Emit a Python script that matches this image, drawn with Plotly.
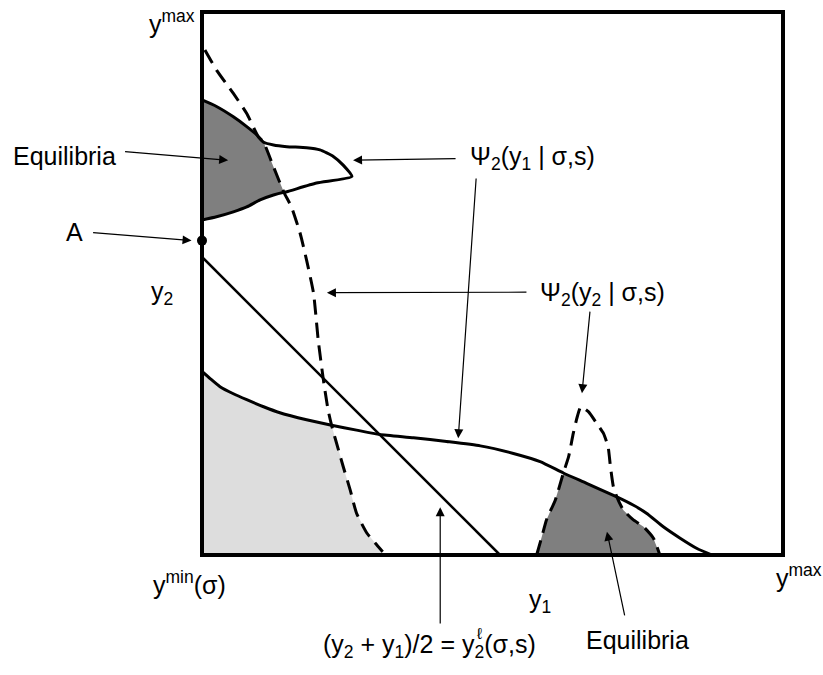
import plotly.graph_objects as go

# Psi_2(y1 | sigma,s): upper loop leaving the y2 axis, out to its tip and back
loop_x = [0, 2.5, 5.4, 7.7, 9.4, 10.6, 12.3, 14.6, 18.0, 20.3, 22.6, 24.3, 25.8,
          19.7, 14.6, 14.1, 12.3, 10.0, 7.7, 5.4, 2.5, 0]
loop_y = [83.8, 82.6, 80.7, 78.9, 77.4, 76.0, 75.5, 75.2, 75.0, 74.6, 73.4, 71.8, 69.7,
          68.5, 66.9, 66.8, 66.3, 65.4, 64.1, 63.2, 62.3, 61.7]

# Psi_2(y1 | sigma,s): lower branch running to the y1 axis
low_x = [0, 1.4, 3.1, 5.4, 7.7, 10.6, 13.4, 18.0, 22.3, 26.6, 30.6, 36.4, 42.1, 47.9,
         53.6, 58.2, 62.2, 66.2, 71.4, 74.2, 76.5, 79.4, 82.3, 85.2, 87.7]
low_y = [33.8, 32.5, 31.0, 29.7, 28.6, 27.3, 26.2, 24.9, 23.9, 23.0, 22.2, 21.6, 20.9, 20.1,
         18.7, 17.2, 15.1, 13.2, 10.7, 9.2, 7.7, 5.2, 3.1, 1.2, 0]

# Psi_2(y2 | sigma,s): dashed branch falling from the top of the y2 axis
dash_x = [0.5, 2.5, 5.4, 7.7, 9.7, 10.6, 12.3, 14.1, 15.4, 16.9, 18.0, 19.2, 20.0, 20.9,
          21.7, 22.3, 23.5, 24.3, 25.5, 26.6, 28.4, 29.8, 31.1]
dash_y = [93.0, 89.3, 85.0, 81.3, 77.0, 76.0, 71.5, 66.8, 64.1, 59.2, 54.3, 48.2, 39.6, 32.2,
          26.7, 23.9, 19.3, 16.3, 12.0, 7.7, 4.0, 2.2, 0.6]

# Psi_2(y2 | sigma,s): dashed hump on the y1 axis
peak_x = [57.6, 58.5, 59.3, 60.8, 62.2, 63.1, 63.9, 64.6, 65.2, 66.5, 67.9, 69.1, 69.9,
          70.3, 70.8, 71.4, 72.5, 74.2, 76.0, 77.7, 78.8]
peak_y = [0, 3.4, 6.5, 10.1, 15.1, 18.1, 22.4, 25.5, 27.3, 26.4, 24.3, 22.4, 19.9,
          16.3, 12.6, 10.7, 8.3, 6.5, 5.2, 3.1, 0]

# (y2 + y1)/2 = y2^l(sigma,s)
avg_x = [0, 51.3]
avg_y = [54.9, 0]

# point A on the y2 axis
a_x = [0]
a_y = [57.9]

DARK = "#7f7f7f"
LIGHT = "#dddddd"
FONT = "Liberation Sans, Arial, sans-serif"
FS = 25

fig = go.Figure()


def area(xs, ys, color):
    fig.add_trace(go.Scatter(x=xs, y=ys, mode="lines", fill="toself",
                             fillcolor=color, line=dict(width=0),
                             hoverinfo="skip", showlegend=False))


# light region under both reaction curves
area([0] + low_x[:9] + dash_x[15:] + [dash_x[-1], 0],
     [0] + low_y[:9] + dash_y[15:] + [0, 0], LIGHT)

# equilibria near the y2 axis
area([0] + loop_x[:6] + dash_x[6:8] + loop_x[16:],
     [loop_y[0]] + loop_y[:6] + dash_y[6:8] + loop_y[16:], DARK)

# equilibria near the y1 axis
area(peak_x[:5] + low_x[17:18] + peak_x[15:],
     peak_y[:5] + low_y[17:18] + peak_y[15:], DARK)

solid = dict(color="black", width=3)
dashed = dict(color="black", width=3, dash="15px,8px")

for xs, ys, ln in [(loop_x, loop_y, solid), (low_x, low_y, solid),
                   (dash_x, dash_y, dashed), (peak_x, peak_y, dashed),
                   (avg_x, avg_y, dict(color="black", width=2.5))]:
    fig.add_trace(go.Scatter(x=xs, y=ys, mode="lines", line=ln,
                             line_shape="spline", line_smoothing=0.5,
                             hoverinfo="skip", showlegend=False, cliponaxis=False))

fig.add_trace(go.Scatter(x=a_x, y=a_y, mode="markers",
                         marker=dict(size=10, color="black"),
                         hoverinfo="skip", showlegend=False, cliponaxis=False))

annotations = []
REF = dict(xref="x domain", yref="y domain")


def label(text, x, y, xanchor="center", size=FS):
    # positions in axis units (0-100); domain fractions keep outside labels visible
    annotations.append(dict(text=text, x=x / 100, y=y / 100, **REF,
                            xanchor=xanchor, yanchor="middle", showarrow=False,
                            font=dict(family=FONT, size=size, color="black")))


def arrow(tail, tip):
    annotations.append(dict(text="", x=tip[0] / 100, y=tip[1] / 100,
                            ax=tail[0] / 100, ay=tail[1] / 100, **REF,
                            axref="x domain", ayref="y domain",
                            showarrow=True, arrowhead=2, arrowsize=1.5,
                            arrowwidth=1.2, arrowcolor="black", standoff=0,
                            startstandoff=0))


label("y<sup>max</sup>", -0.9, 98.2, xanchor="right")
label("Equilibria", -23.6, 73.5)
label("A", -21.9, 59.5)
label("y<sub>2</sub>", -6.9, 48.3)
label("y<sup>min</sup>(σ)", -2.2, -5.2)
label("y<sub>1</sub>", 58.2, -8.5)
label("y<sup>max</sup>", 102.8, -3.9)
label("(y<sub>2</sub> + y<sub>1</sub>)/2 = y<sub>2</sub>(σ,s)", 39.2, -16.8)
label("ℓ", 47.8, -14.4, size=16)
label("Equilibria", 74.9, -15.7)
label("Ψ<sub>2</sub>(y<sub>1</sub> | σ,s)", 45.8, 73.1, xanchor="left")
label("Ψ<sub>2</sub>(y<sub>2</sub> | σ,s)", 57.8, 48.1, xanchor="left")

arrow((-13.5, 74.3), (4.5, 72.7))
arrow((-19.0, 59.4), (-1.8, 57.9))
arrow((43.9, 73.0), (26.0, 72.7))
arrow((47.2, 69.6), (44.1, 21.5))
arrow((56.1, 48.4), (21.5, 48.3))
arrow((66.8, 45.1), (65.4, 29.8))
arrow((41.0, -12.9), (41.0, 8.8))
arrow((72.8, -11.4), (69.7, 4.3))

fig.update_layout(
    width=823, height=675,
    margin=dict(l=202, r=40, t=12, b=120),
    paper_bgcolor="white", plot_bgcolor="white",
    xaxis=dict(range=[0, 100], visible=False, fixedrange=True),
    yaxis=dict(range=[0, 100], visible=False, fixedrange=True),
    annotations=annotations,
    shapes=[dict(type="rect", xref="x domain", yref="y domain",
                 x0=0, x1=1, y0=0, y1=1, layer="above",
                 line=dict(color="black", width=4))],
)

fig.write_html("out.html")
